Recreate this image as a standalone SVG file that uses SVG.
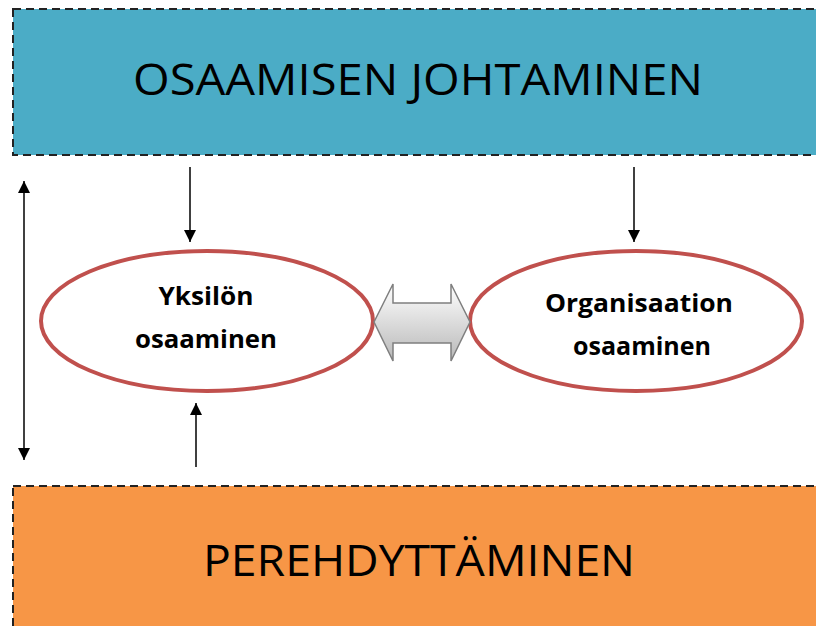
<svg xmlns="http://www.w3.org/2000/svg" width="816" height="626" viewBox="0 0 816 626">
<style>
.band{stroke:#222;stroke-width:2;stroke-dasharray:8,5}
.big{font-family:"Open Sans","Liberation Sans",sans-serif;font-size:43px;fill:#000;text-anchor:middle}
.oval{fill:#fff;stroke:#C0504D;stroke-width:4}
.lbl{font-family:"Open Sans","Liberation Sans",sans-serif;font-size:25px;font-weight:bold;fill:#000;text-anchor:middle}
.conn{stroke:#000;stroke-width:1.5;fill:none}
</style>
<defs>
<marker id="ah" viewBox="0 0 10 10" refX="10" refY="5" markerWidth="12" markerHeight="12" markerUnits="userSpaceOnUse" orient="auto-start-reverse">
<path d="M0,0 L10,5 L0,10 z" fill="#000"/>
</marker>
<linearGradient id="gg" x1="0" y1="0" x2="0" y2="1">
<stop offset="0" stop-color="#ffffff"/>
<stop offset="1" stop-color="#b8b8b8"/>
</linearGradient>
</defs>
<g id="johtaminen">
<rect class="band" x="13" y="9" width="820" height="146" fill="#4BACC6"/>
<text class="big" x="418" y="95" textLength="570" lengthAdjust="spacingAndGlyphs">OSAAMISEN JOHTAMINEN</text>
</g>
<g id="perehdyttaminen">
<rect class="band" x="13" y="486" width="820" height="160" fill="#F79646"/>
<text class="big" x="419" y="576" textLength="432" lengthAdjust="spacingAndGlyphs">PEREHDYTTÄMINEN</text>
</g>
<g id="yksilon">
<ellipse class="oval" cx="207" cy="321" rx="166" ry="70"/>
<text class="lbl" x="206" y="305" textLength="95" lengthAdjust="spacingAndGlyphs">Yksilön</text>
<text class="lbl" x="206" y="348" textLength="142" lengthAdjust="spacingAndGlyphs">osaaminen</text>
</g>
<g id="organisaation">
<ellipse class="oval" cx="636" cy="321" rx="166" ry="70"/>
<text class="lbl" x="639" y="312" textLength="188" lengthAdjust="spacingAndGlyphs">Organisaation</text>
<text class="lbl" x="642" y="355" textLength="138" lengthAdjust="spacingAndGlyphs">osaaminen</text>
</g>
<g id="connectors">
<line class="conn" x1="24" y1="181" x2="24" y2="460" marker-start="url(#ah)" marker-end="url(#ah)"/>
<line class="conn" x1="190" y1="167" x2="190" y2="242" marker-end="url(#ah)"/>
<line class="conn" x1="634" y1="167" x2="634" y2="242" marker-end="url(#ah)"/>
<line class="conn" x1="196" y1="467" x2="196" y2="403" marker-end="url(#ah)"/>
<path d="M374,322 L393,284 L393,303 L451,303 L451,284 L470,322 L451,361 L451,343 L393,343 L393,361 Z" fill="url(#gg)" stroke="#7f7f7f" stroke-width="1.5" stroke-linejoin="miter"/>
</g>
</svg>
